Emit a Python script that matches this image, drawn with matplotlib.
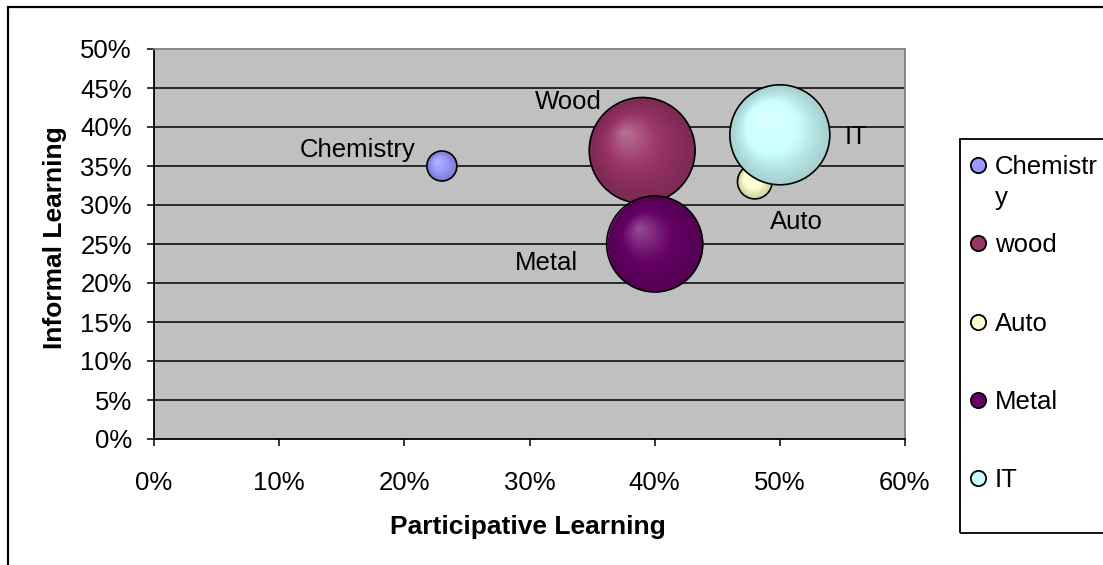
"""Bubble chart: participative vs informal learning by trade"""
import numpy as np
import matplotlib.pyplot as plt
from matplotlib import transforms
from matplotlib.patches import Rectangle
from matplotlib.lines import Line2D
from matplotlib.ticker import PercentFormatter

plt.rcParams['font.family'] = ['Liberation Sans', 'DejaVu Sans']

# ------------
# Data
# ------------
series_names = ['Chemistry', 'wood', 'Auto', 'Metal', 'IT']
point_labels = ['Chemistry', 'Wood', 'Auto', 'Metal', 'IT']
participative = [0.23, 0.39, 0.48, 0.40, 0.50]
informal = [0.35, 0.37, 0.33, 0.25, 0.39]
bubble_size = [9, 112, 12, 92, 100]
colors = ['#9999FF', '#993366', '#FFFFCC', '#660066', '#CCFFFF']

# label offsets in points (x, y, ha)
label_offsets = [(-19, 11.5, 'right'), (-53, 35, 'center'), (30, -29, 'center'),
                 (-78, -14, 'center'), (47, -1.5, 'left')]

x_ticks = np.arange(0, 0.61, 0.1)
y_ticks = np.arange(0, 0.51, 0.05)

FS = 18.5
FS_BOLD = 19

# ------------
# Figure
# ------------
fig = plt.figure(figsize=(11.03, 5.65), dpi=100)
ax = fig.add_axes([154 / 1103, 1 - 439 / 565, 751 / 1103, 390 / 565])
ax.set_facecolor('#C0C0C0')
ax.set_xlim(0, 0.6)
ax.set_ylim(0, 0.5)

for y in y_ticks[1:-1]:
    ax.axhline(y, color='black', linewidth=1.1, zorder=1)

size_scale = 51.84


def shade(c, f):
    c = np.array(plt.matplotlib.colors.to_rgb(c))
    if f < 1:
        return tuple(c * f)
    return tuple(c + (1 - c) * (f - 1))


for i in range(len(series_names)):
    s = bubble_size[i] * size_scale
    r_pt = np.sqrt(s) / 2
    z = 3 + i * 2
    n = 25
    for k in range(n):
        frac = 1 - k / n
        dx = -(1 - frac) * 0.35 * r_pt
        dy = (1 - frac) * 0.35 * r_pt
        tr = transforms.offset_copy(ax.transData, fig=fig, x=dx, y=dy, units='points')
        f = 0.82 + 0.5 * (1 - frac) ** 1.3
        ax.scatter([participative[i]], [informal[i]], s=s * frac ** 2,
                   color=shade(colors[i], f), linewidths=0, transform=tr, zorder=z)
    ax.scatter([participative[i]], [informal[i]], s=s, facecolors='none',
               edgecolors='black', linewidths=1.2, zorder=z + 1)
    ox, oy, ha = label_offsets[i]
    ax.annotate(point_labels[i], (participative[i], informal[i]), xytext=(ox, oy),
                textcoords='offset points', ha=ha, va='center', fontsize=FS, zorder=20)

ax.set_xticks(x_ticks)
ax.set_yticks(y_ticks)
ax.xaxis.set_major_formatter(PercentFormatter(1.0, decimals=0))
ax.yaxis.set_major_formatter(PercentFormatter(1.0, decimals=0))
ax.tick_params(axis='both', direction='out', length=5, width=1.1, labelsize=FS)
ax.tick_params(axis='y', pad=11)
ax.tick_params(axis='x', pad=18)

for side in ['left', 'bottom']:
    ax.spines[side].set_color('black')
    ax.spines[side].set_linewidth(1.3)
for side in ['top', 'right']:
    ax.spines[side].set_color('#808080')
    ax.spines[side].set_linewidth(1.3)

ax.set_xlabel('Participative Learning', fontsize=FS_BOLD, fontweight='bold')
ax.set_ylabel('Informal Learning', fontsize=FS_BOLD, fontweight='bold')
ax.xaxis.set_label_coords((528 - 154) / 751, -(515 - 439) / 390)
ax.yaxis.set_label_coords(-(154 - 67) / 751, (439 - 238) / 390)

# outer chart border
fig.add_artist(Rectangle((8 / 1103, -0.5), 2, 1.5 - 7 / 565, transform=fig.transFigure,
                         fill=False, edgecolor='black', linewidth=1.6))

# legend box
fig.add_artist(Rectangle((960 / 1103, 1 - 533 / 565), 1, (533 - 139) / 565,
                         transform=fig.transFigure, fill=False, edgecolor='black',
                         linewidth=1.3))
legend_text = ['Chemistr\ny' if n == 'Chemistry' else n for n in series_names]
for i, name in enumerate(legend_text):
    yc = 167 + 78.3 * i
    fig.add_artist(Line2D([978 / 1103], [1 - (yc - 2) / 565], transform=fig.transFigure,
                          marker='o', markersize=11, markerfacecolor=colors[i],
                          markeredgecolor='black', markeredgewidth=1.3, linestyle='none'))
    for j, line in enumerate(name.split('\n')):
        fig.text(995 / 1103, 1 - (yc + 31 * j) / 565, line, fontsize=FS,
                 va='center', ha='left')

fig.savefig('out.png', dpi=100)
